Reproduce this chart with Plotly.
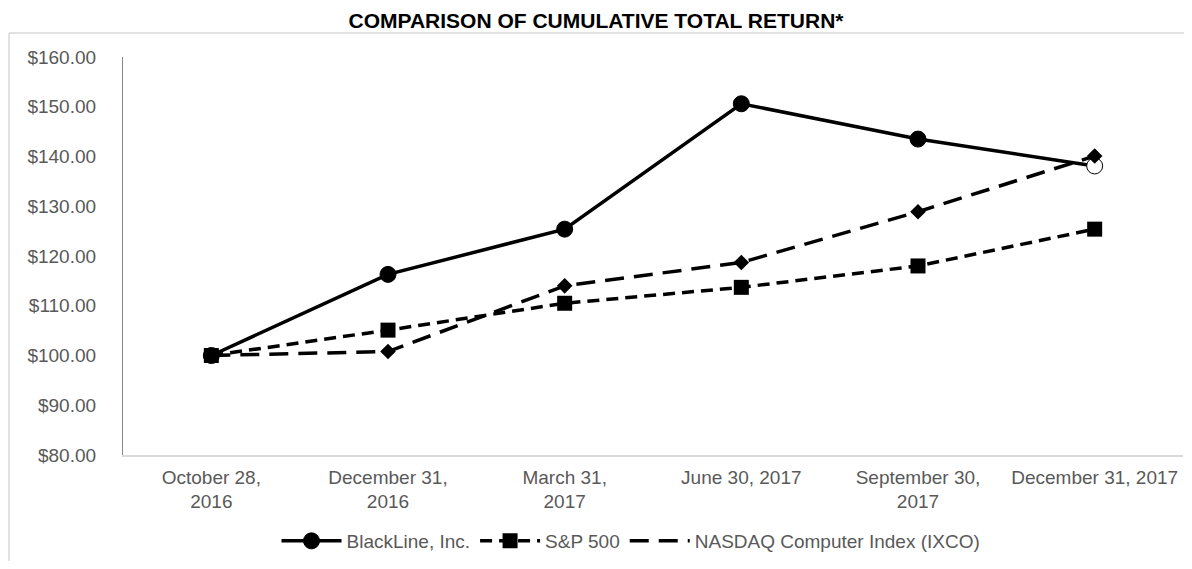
import plotly.graph_objects as go

categories = ["October 28,<br>2016", "December 31,<br>2016", "March 31,<br>2017",
              "June 30, 2017", "September 30,<br>2017", "December 31, 2017"]
blackline = [100.0, 116.3, 125.4, 150.6, 143.5, 138.1]
sp500 = [100.0, 105.1, 110.5, 113.7, 118.0, 125.4]
nasdaq = [100.0, 100.8, 114.0, 118.7, 128.9, 140.1]

series_names = ["BlackLine, Inc.", "S&P 500", "NASDAQ Computer Index (IXCO)"]
y_ticks = [80, 90, 100, 110, 120, 130, 140, 150, 160]
y_tick_labels = ["$%.2f" % v for v in y_ticks]

FONT = "Liberation Sans, Arial, sans-serif"
GRAY = "#595959"

# page has an 8px body margin; figure is sized so the plot lands where the reference has it
W, H = 1176, 553
L, R, T, B = 115, 1, 49, 106
PW, PH = W - L - R, H - T - B  # 1060 x 398


def px_x(page_x):
    return (page_x - 8 - L) / PW


def px_y(page_y):
    return (H - B - (page_y - 8)) / PH


fig = go.Figure()

bl_colors = ["black"] * (len(blackline) - 1) + ["white"]
fig.add_trace(go.Scatter(
    x=categories, y=blackline, name=series_names[0], mode="lines+markers",
    line=dict(color="black", width=3.5),
    marker=dict(symbol="circle", size=16, color=bl_colors,
                line=dict(color="black", width=1)),
))
fig.add_trace(go.Scatter(
    x=categories, y=sp500, name=series_names[1], mode="lines+markers",
    line=dict(color="black", width=3.5, dash="12px,7px"),
    marker=dict(symbol="square", size=15, color="black"),
))
fig.add_trace(go.Scatter(
    x=categories, y=nasdaq, name=series_names[2], mode="lines+markers",
    line=dict(color="black", width=3.5, dash="19px,10px"),
    marker=dict(symbol="diamond", size=12, color="black"),
    showlegend=False,
))
# legend entry for NASDAQ (line only, as in the reference legend)
fig.add_trace(go.Scatter(
    x=[None], y=[None], name=series_names[2], mode="lines",
    line=dict(color="black", width=3.5, dash="19px,10px"),
))

fig.update_layout(
    width=W, height=H,
    margin=dict(l=L, r=R, t=T, b=B),
    paper_bgcolor="white", plot_bgcolor="white",
    font=dict(family=FONT, size=19, color=GRAY),
    title=dict(text="<b>COMPARISON OF CUMULATIVE TOTAL RETURN*</b>",
               font=dict(family=FONT, size=21, color="black"),
               x=(596 - 8) / W, xanchor="center", y=1 - (21 - 8) / H, yanchor="middle"),
    showlegend=True,
    legend=dict(orientation="h", x=px_x(631), xanchor="center", y=px_y(541), yanchor="middle",
                itemwidth=60,
                font=dict(family=FONT, size=19, color=GRAY), bgcolor="rgba(0,0,0,0)"),
    xaxis=dict(type="category", range=[-0.5, len(categories) - 0.5],
               showgrid=False, showline=True, linecolor="#d9d9d9",
               linewidth=1.5, ticks="", tickfont=dict(size=19, color=GRAY),
               ticklabelstandoff=4, zeroline=False),
    yaxis=dict(range=[80, 160], tickvals=y_ticks, ticktext=y_tick_labels,
               showgrid=False, showline=True, linecolor="#888888", linewidth=1.2,
               ticks="", tickfont=dict(size=19, color=GRAY), ticklabelstandoff=22,
               zeroline=False),
    shapes=[
        dict(type="line", xref="paper", yref="paper",
             x0=px_x(9), x1=px_x(1200), y0=px_y(33), y1=px_y(33),
             line=dict(color="#d9d9d9", width=1.5)),
        dict(type="line", xref="paper", yref="paper",
             x0=px_x(9), x1=px_x(9), y0=px_y(33), y1=px_y(600),
             line=dict(color="#d9d9d9", width=1.5)),
    ],
)

fig.write_html("out.html")
